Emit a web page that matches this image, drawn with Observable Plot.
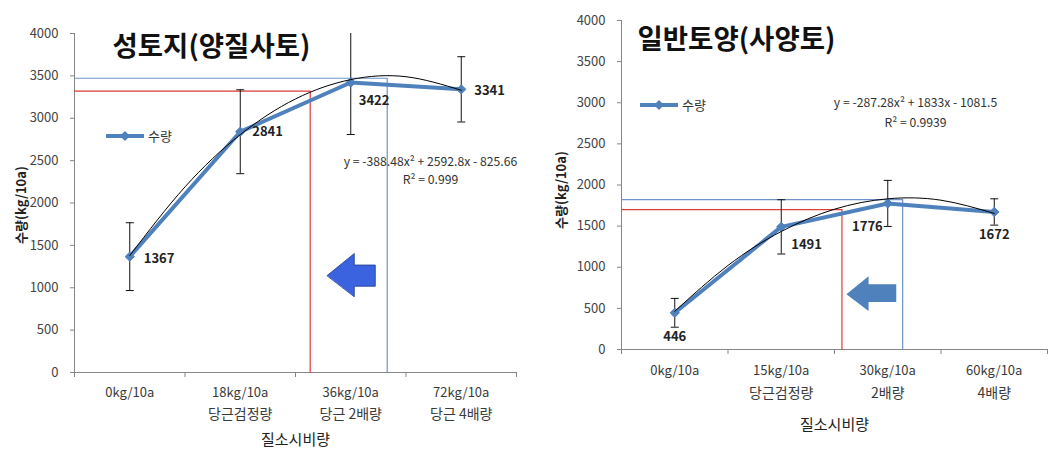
<!DOCTYPE html>
<html>
<head>
<meta charset="utf-8">
<script src="https://cdn.jsdelivr.net/npm/d3@7"></script>
<script src="https://cdn.jsdelivr.net/npm/@observablehq/plot@0.6"></script>
<style>
  html, body { margin: 0; padding: 0; background: #fff; }
  #wrap { position: relative; width: 1061px; height: 456px; overflow: hidden; font-family: "Noto Sans CJK KR", "Noto Sans", sans-serif; }
  .panel { position: absolute; top: 0; }
  .legend { position: absolute; display: flex; align-items: center; font-size: 13px; color: #333; }
</style>
</head>
<body>
<div id="wrap"></div>
<script>
// ---------- data ----------
const categoryIndex = [0, 1, 2, 3];
const trendX = [0, 0.5, 1, 1.5, 2, 2.5, 3];

// left: 성토지(양질사토)
const leftTitle = "성토지(양질사토)";
const leftTickTop = ["0kg/10a", "18kg/10a", "36kg/10a", "72kg/10a"];
const leftTickBottom = ["", "당근검정량", "당근 2배량", "당근 4배량"];
const leftYield = [1367, 2841, 3422, 3341];
const leftError = [400, 495, 614, 385];
const leftTrend = [1379, 2190, 2806, 3228, 3456, 3490, 3330];
const leftEquation = ["y = -388.48x² + 2592.8x - 825.66", "R² = 0.999"];
const leftRedMark = [1.633, 3320];
const leftBlueMark = [2.33, 3472];
const leftArrowX = [1.787, 2.032, 2.032, 2.222, 2.222, 2.032, 2.032];
const leftArrowY = [1145, 1404, 1268, 1268, 1018, 1018, 897];

// right: 일반토양(사양토)
const rightTitle = "일반토양(사양토)";
const rightTickTop = ["0kg/10a", "15kg/10a", "30kg/10a", "60kg/10a"];
const rightTickBottom = ["", "당근검정량", "2배량", "4배량"];
const rightYield = [446, 1491, 1776, 1672];
const rightError = [175, 330, 280, 160];
const rightTrend = [464, 1022, 1435, 1706, 1832, 1815, 1654];
const rightEquation = ["y = -287.28x² + 1833x - 1081.5", "R² = 0.9939"];
const rightRedMark = [1.57, 1701];
const rightBlueMark = [2.14, 1823];
const rightArrowX = [1.612, 1.820, 1.820, 2.080, 2.080, 1.820, 1.820];
const rightArrowY = [672, 891, 794, 794, 579, 579, 469];

const yTicks = [0, 500, 1000, 1500, 2000, 2500, 3000, 3500, 4000];
const bandEdges = [-0.5, 0.5, 1.5, 2.5, 3.5];
const seriesName = "수량";
const yLabel = "수량(kg/10a)";
const xLabel = "질소시비량";

// ---------- drawing ----------
const FONT = "Noto Sans CJK KR, Noto Sans, sans-serif";
const capSymbol = {
  draw(context, size) {
    const w = Math.sqrt(size / Math.PI);
    context.moveTo(-w, 0);
    context.lineTo(w, 0);
  }
};

function makeChart(o) {
  const pts = categoryIndex.map((i) => ({x: i, y: o.values[i], e: o.errors[i], label: String(o.values[i])}));
  const trend = trendX.map((x, i) => ({x, y: o.trend[i]}));
  const red = [{x: -0.5, y: o.red[1]}, {x: o.red[0], y: o.red[1]}, {x: o.red[0], y: 0}];
  const blue = [{x: -0.5, y: o.blue[1]}, {x: o.blue[0], y: o.blue[1]}, {x: o.blue[0], y: 0}];
  const arrow = o.arrowX.map((x, i) => ({x, y: o.arrowY[i]}));
  const ticks = categoryIndex.map((i) => ({x: i, top: o.tickTop[i], bottom: o.tickBottom[i]}));

  return Plot.plot({
    width: o.width,
    height: o.height,
    marginLeft: o.ml,
    marginRight: o.mr,
    marginTop: o.mt,
    marginBottom: o.mb,
    style: {fontFamily: FONT, background: "transparent", overflow: "visible"},
    x: {domain: [-0.5, 3.5], axis: null},
    y: {domain: [0, 4000], axis: null},
    marks: [
      // axes
      Plot.ruleY([0], {stroke: "#868686"}),
      Plot.ruleX([-0.5], {stroke: "#868686"}),
      Plot.axisY({ticks: yTicks, tickSize: 4, tickPadding: 12, fontSize: 13, color: "#444", stroke: "#868686", label: null, tickFormat: (d) => String(d)}),
      Plot.axisX({ticks: bandEdges, tickSize: 5, tickFormat: () => "", stroke: "#868686", label: null}),
      Plot.text(ticks, {x: "x", text: "top", frameAnchor: "bottom", lineAnchor: "middle", dy: o.tickDy1, fontSize: 13, fill: "#3a3a3a"}),
      Plot.text(ticks, {x: "x", text: "bottom", frameAnchor: "bottom", lineAnchor: "middle", dy: o.tickDy2, fontSize: 14, fill: "#3a3a3a"}),
      Plot.text([xLabel], {frameAnchor: "bottom", lineAnchor: "middle", dy: o.xLabelDy, fontSize: 15, fill: "#222"}),
      Plot.text([yLabel], {frameAnchor: "left", textAnchor: "middle", lineAnchor: "middle", rotate: -90, dx: o.yLabelDx, dy: o.yLabelDy, fontSize: 13, fontWeight: "bold", fill: "#222"}),
      // guide lines
      Plot.line(red, {x: "x", y: "y", stroke: "#e03a3a", strokeWidth: 1.2}),
      Plot.line(blue, {x: "x", y: "y", stroke: "#6f93c9", strokeWidth: 1.2}),
      // arrow
      Plot.line(arrow, {x: "x", y: "y", fill: o.arrowFill, stroke: o.arrowStroke, strokeWidth: 0.8, curve: "linear-closed"}),
      // error bars
      Plot.ruleX(pts, {x: "x", y1: (d) => d.y - d.e, y2: (d) => d.y + d.e, stroke: "#111", strokeWidth: 1, clip: true}),
      Plot.dot(pts, {x: "x", y: (d) => d.y - d.e, symbol: capSymbol, r: 4, stroke: "#111", strokeWidth: 1, clip: true}),
      Plot.dot(pts, {x: "x", y: (d) => d.y + d.e, symbol: capSymbol, r: 4, stroke: "#111", strokeWidth: 1, clip: true}),
      // series
      Plot.line(pts, {x: "x", y: "y", stroke: "#4f81bd", strokeWidth: 4, strokeLinejoin: "round"}),
      Plot.dot(pts, {x: "x", y: "y", symbol: "diamond2", r: 4.2, fill: "#4f81bd", stroke: "#4f81bd", strokeWidth: 1}),
      // trend line
      Plot.line(trend, {x: "x", y: "y", curve: "natural", stroke: "#000", strokeWidth: 1}),
      // data labels
      ...categoryIndex.map((i) => Plot.text([pts[i]], {x: "x", y: "y", text: "label", fontSize: 13, fontWeight: "bold", fill: "#222",
        textAnchor: o.labelAnchor[i], dx: o.labelDx[i], dy: o.labelDy[i]})),
      // equation
      Plot.text([o.equation[0]], {frameAnchor: "top-left", textAnchor: "middle", lineAnchor: "middle", dx: o.eqX, dy: o.eqY1, fontSize: 12.2, fill: "#333"}),
      Plot.text([o.equation[1]], {frameAnchor: "top-left", textAnchor: "middle", lineAnchor: "middle", dx: o.eqX, dy: o.eqY2, fontSize: 12.2, fill: "#333"}),
      // title
      Plot.text([o.title], {frameAnchor: "top-left", textAnchor: "start", lineAnchor: "middle", dx: o.titleDx, dy: o.titleDy, fontSize: 27.5, fontWeight: "bold", fill: "#111"})
    ]
  });
}

function legend(left, top) {
  const div = document.createElement("div");
  div.className = "legend";
  div.style.left = left + "px";
  div.style.top = top + "px";
  div.innerHTML = `<svg width="40" height="12" style="margin-right:2px"><line x1="0" y1="6" x2="38" y2="6" stroke="#4f81bd" stroke-width="4"/><path d="M19,1 L24,6 L19,11 L14,6 Z" fill="#4f81bd"/></svg><span>${seriesName}</span>`;
  return div;
}

const wrap = document.getElementById("wrap");

const leftChart = makeChart({
  width: 530, height: 456, ml: 74, mr: 14, mt: 33, mb: 84,
  values: leftYield, errors: leftError, trend: leftTrend,
  red: leftRedMark, blue: leftBlueMark, arrowX: leftArrowX, arrowY: leftArrowY,
  arrowFill: "#3b63e0", arrowStroke: "#1d3a8a",
  tickTop: leftTickTop, tickBottom: leftTickBottom,
  tickDy1: 20, tickDy2: 42, xLabelDy: 68, yLabelDx: -53, yLabelDy: 2,
  labelAnchor: ["start", "start", "start", "start"], labelDx: [14, 12, 8, 13], labelDy: [2, 0, 18, 1],
  equation: leftEquation, eqX: 356, eqY1: 129, eqY2: 147,
  title: leftTitle, titleDx: 38, titleDy: 14
});
leftChart.classList.add("panel");
leftChart.style.left = "0px";
wrap.appendChild(leftChart);

const rightChart = makeChart({
  width: 521, height: 456, ml: 81, mr: 14, mt: 20, mb: 107,
  values: rightYield, errors: rightError, trend: rightTrend,
  red: rightRedMark, blue: rightBlueMark, arrowX: rightArrowX, arrowY: rightArrowY,
  arrowFill: "#4f81bd", arrowStroke: "none",
  tickTop: rightTickTop, tickBottom: rightTickBottom,
  tickDy1: 21, tickDy2: 44, xLabelDy: 76, yLabelDx: -60, yLabelDy: 5,
  labelAnchor: ["middle", "start", "end", "middle"], labelDx: [0, 10, -5, 0], labelDy: [24, 18, 23, 23],
  equation: rightEquation, eqX: 294, eqY1: 83, eqY2: 103,
  title: rightTitle, titleDx: 16, titleDy: 20
});
rightChart.classList.add("panel");
rightChart.style.left = "540px";
wrap.appendChild(rightChart);

wrap.appendChild(legend(106, 126));
wrap.appendChild(legend(640, 95));
</script>
</body>
</html>
